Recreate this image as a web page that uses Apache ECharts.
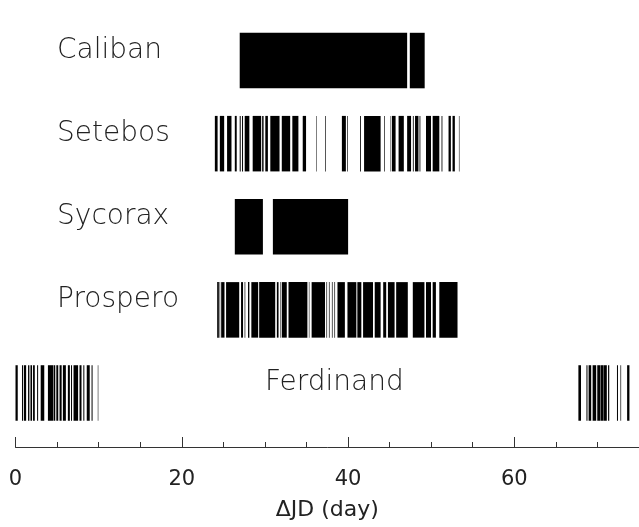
<!DOCTYPE html>
<html>
<head>
<meta charset="utf-8">
<script src="https://cdn.jsdelivr.net/npm/echarts@6/dist/echarts.min.js"></script>
<style>html,body{margin:0;padding:0;background:#fff;}#c{width:639px;height:527px;}</style>
</head>
<body>
<div id="c"></div>
<script>
// Observation intervals [start, end] in ΔJD days
const caliban = [[26.97,47.11],[47.43,49.22]];
const setebos = [[23.98,24.31],[24.58,25.10],[25.45,25.98],[26.38,26.61],[26.97,27.09],[27.25,27.37],[27.57,28.13],[28.53,29.55],[29.67,29.84],[30.05,30.36],[30.65,31.76],[32.03,33.04],[33.30,34.03],[34.55,34.95],[36.15,36.21],[37.26,37.34],[39.26,39.74],[39.89,39.97],[41.45,41.55],[41.93,43.92],[44.35,44.43],[45.12,45.18],[45.28,45.72],[46.08,46.71],[47.11,47.58],[47.80,47.90],[48.06,48.47],[48.60,48.70],[49.38,49.98],[50.18,50.98],[51.25,51.35],[52.09,52.37],[52.57,52.85],[53.34,53.40]];
const sycorax = [[26.38,29.76],[30.96,40.01]];
const prospero = [[24.26,24.46],[24.55,24.62],[24.74,25.14],[25.33,26.91],[27.13,27.37],[27.56,27.64],[27.97,28.13],[28.37,29.19],[29.31,31.24],[31.44,31.64],[31.82,31.88],[32.03,32.63],[32.84,35.11],[35.29,35.35],[35.62,37.23],[37.40,37.48],[37.70,37.78],[38.06,38.14],[38.36,38.44],[38.73,39.62],[39.93,41.00],[41.12,41.60],[41.81,43.00],[43.21,43.92],[44.23,44.59],[44.80,45.60],[45.79,47.19],[47.79,49.19],[49.38,49.98],[50.18,50.57],[50.98,53.17]];
const ferdinand = [[0.0,0.27],[0.78,0.90],[1.00,1.28],[1.51,1.67],[1.80,1.99],[2.11,2.32],[2.60,2.72],[3.03,3.46],[3.90,4.54],[4.59,4.78],[4.91,5.14],[5.30,5.55],[5.70,6.06],[6.30,6.54],[6.68,6.80],[6.98,7.53],[7.70,7.94],[8.16,8.28],[8.57,8.93],[9.15,9.27],[9.90,9.96],[67.71,68.02],[68.68,68.80],[68.94,69.25],[69.42,69.85],[69.98,70.33],[70.37,70.74],[70.77,71.13],[71.28,71.42],[72.35,72.47],[72.77,72.85],[73.57,73.85]];

const rowNames = ['Caliban','Setebos','Sycorax','Prospero','Ferdinand'];
const rowLevels = [5,4,3,2,1];
const labelDays = [5,5,5,5,30];
const xTicks = [0,20,40,60];

const intervalsByRow = [caliban, setebos, sycorax, prospero, ferdinand];
const barData = [];
intervalsByRow.forEach((list, i) => list.forEach(iv => barData.push([iv[0], iv[1], rowLevels[i]])));
const labelData = rowNames.map((n, i) => [labelDays[i], rowLevels[i] + 0.12, n]);

const FONT = 'DejaVu Sans';
const BAR_H = 0.668;

const chart = echarts.init(document.getElementById('c'), null, {renderer: 'canvas'});
chart.setOption({
  animation: false,
  backgroundColor: '#fff',
  grid: {left: 15.5, top: 19, width: 627, height: 428},
  xAxis: {
    type: 'value', min: 0, max: 75, interval: 20,
    axisLine: {show: true, lineStyle: {color: '#333', width: 1}},
    axisTick: {show: true, inside: true, length: 10, lineStyle: {color: '#333'}},
    minorTick: {show: true, splitNumber: 4, length: 5, lineStyle: {color: '#333'}},
    splitLine: {show: false},
    axisLabel: {
      color: '#222', fontSize: 21, fontFamily: FONT, margin: 22, showMaxLabel: false,
      formatter: v => xTicks.indexOf(v) >= 0 ? String(v) : ''
    },
    name: 'ΔJD (day)', nameLocation: 'middle', nameGap: 52,
    nameTextStyle: {color: '#222', fontSize: 22, fontFamily: FONT}
  },
  yAxis: {type: 'value', min: 0.35, max: 5.5, show: false},
  series: [
    {
      type: 'custom',
      data: barData,
      encode: {x: [0, 1], y: 2},
      renderItem: function (params, api) {
        const s = api.coord([api.value(0), api.value(2)]);
        const e = api.coord([api.value(1), api.value(2)]);
        const h = api.size([0, BAR_H])[1];
        return {
          type: 'rect',
          shape: {x: s[0], y: s[1] - h / 2, width: Math.max(e[0] - s[0], 0.5), height: h},
          style: {fill: '#000'}
        };
      }
    },
    {
      type: 'custom',
      data: labelData,
      encode: {x: 0, y: 1},
      renderItem: function (params, api) {
        const p = api.coord([api.value(0), api.value(1)]);
        return {
          type: 'text',
          style: {
            x: p[0], y: p[1], text: labelData[params.dataIndex][2],
            fill: '#222', font: '300 28px "' + FONT + '"',
            textAlign: 'left', textVerticalAlign: 'middle'
          }
        };
      }
    }
  ]
});
</script>
</body>
</html>
